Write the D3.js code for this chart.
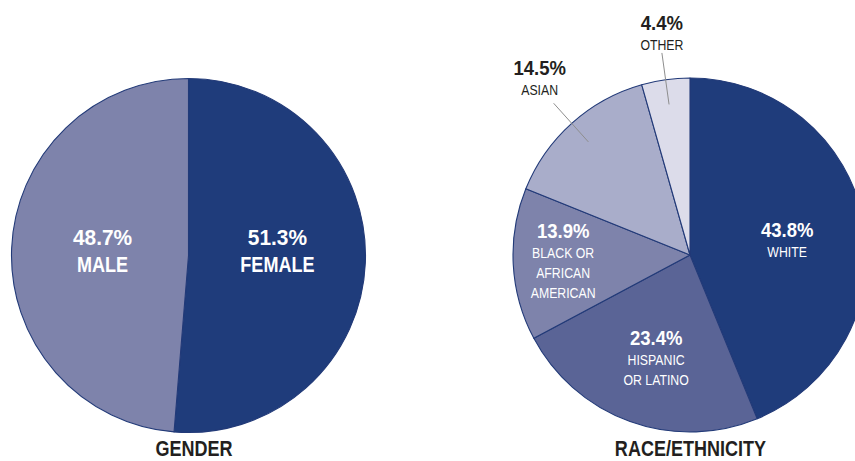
<!DOCTYPE html>
<html>
<head>
<meta charset="utf-8">
<script src="https://cdnjs.cloudflare.com/ajax/libs/d3/7.8.5/d3.min.js"></script>
<style>
  html, body { margin: 0; padding: 0; background: #fff; }
  svg { display: block; }
</style>
</head>
<body>
<div id="chart"></div>
<script>
var width = 855,
    height = 461;

// gender pie
var genderCats = ["FEMALE", "MALE"];
var genderVals = [51.3, 48.7];

// race / ethnicity pie
var raceCats = ["WHITE", "HISPANIC OR LATINO", "BLACK OR AFRICAN AMERICAN", "ASIAN", "OTHER"];
var raceVals = [43.8, 23.4, 13.9, 14.5, 4.4];
// how the category names wrap
var raceLines = [["WHITE"], ["HISPANIC", "OR LATINO"], ["BLACK OR", "AFRICAN", "AMERICAN"], ["ASIAN"], ["OTHER"]];

var titles = ["GENDER", "RACE/ETHNICITY"];

var genderColors = ["#1f3c7b", "#7e83ab"];
var raceColors = ["#1f3c7b", "#5a6496", "#7e83ab", "#a9adca", "#dcdcea"];

var R = 177;
var font = "'Liberation Sans', Arial, sans-serif";
// condensed look: squeeze Liberation Sans horizontally
var wordSqueeze = 0.82,
    pctSqueeze = 0.95;

var svg = d3.select("#chart").append("svg")
    .attr("width", width)
    .attr("height", height);

var pie = d3.pie().sort(null).value(d => d.value);
var arc = d3.arc().innerRadius(0).outerRadius(R);
var labelArc = d3.arc().innerRadius(97).outerRadius(97);
var leadIn = d3.arc().innerRadius(152).outerRadius(152);
var leadOut = d3.arc().innerRadius(204).outerRadius(204);

// add a squeezed, centered text at (x,y) inside parent
function addText(parent, x, y, str, size, bold, squeeze, fill) {
    return parent.append("text")
        .attr("transform", "translate(" + x + "," + y + ") scale(" + squeeze + ",1)")
        .attr("text-anchor", "middle")
        .attr("font-family", font)
        .attr("font-weight", bold ? 700 : 400)
        .attr("font-size", size)
        .attr("fill", fill)
        .text(str);
}

/**
 * draw one pie
 */
function drawPie(cx, cy, data, colors, opts) {
    var g = svg.append("g").attr("transform", "translate(" + cx + "," + cy + ")");
    var arcs = pie(data);

    g.selectAll(".slice").data(arcs).enter().append("path")
        .attr("class", "slice")
        .attr("d", arc)
        .attr("fill", (d, i) => colors[i])
        .attr("stroke", "#223a78")
        .attr("stroke-width", 1.1)
        .attr("stroke-linejoin", "round");

    arcs.forEach((d, i) => {
        var lines = d.data.lines;
        var pct = d.data.value.toFixed(1) + "%";
        if (d.data.outside) {
            // leader line + dark label above the pie
            var a = leadIn.centroid(d), b = leadOut.centroid(d);
            g.append("line")
                .attr("x1", a[0]).attr("y1", a[1])
                .attr("x2", b[0]).attr("y2", b[1])
                .attr("stroke", "#8e8e8e")
                .attr("stroke-width", 1);
            var lx = b[0] + d.data.nudge[0], ly = b[1] + d.data.nudge[1];
            addText(g, lx, ly - 20, pct, opts.pctSize, true, pctSqueeze, "#231f20");
            addText(g, lx, ly, lines[0], opts.wordSize, false, wordSqueeze, "#231f20");
            return;
        }
        var c = labelArc.centroid(d);
        var x = c[0] + d.data.nudge[0], y = c[1] + d.data.nudge[1];
        var n = lines.length + 1;
        var base = y - (n - 1) * opts.lh / 2 + opts.cap / 2;
        addText(g, x, base, pct, opts.pctSize, true, pctSqueeze, "#fff");
        lines.forEach((l, j) => {
            addText(g, x, base + (j + 1) * opts.lh, l, opts.wordSize, opts.wordBold, wordSqueeze, "#fff");
        });
    });
}

// label nudges from the slice centroid (layout only)
var genderNudge = [[-8, -9], [11, -1]];
var raceNudge = [[2, 4], [-1, 12], [-30, 1], [-14, -8], [0, -3]];

var genderData = genderCats.map((c, i) => ({
    name: c, value: genderVals[i], lines: [c], nudge: genderNudge[i], outside: false
}));
var raceData = raceCats.map((c, i) => ({
    name: c, value: raceVals[i], lines: raceLines[i], nudge: raceNudge[i], outside: i >= 3
}));

drawPie(188.5, 255.5, genderData, genderColors,
    {pctSize: 22, wordSize: 22, wordBold: true, lh: 27.5, cap: 16});
drawPie(690, 255, raceData, raceColors,
    {pctSize: 19.5, wordSize: 15, wordBold: false, lh: 20, cap: 14});

// titles under the pies
var tx = [194, 690.5];
titles.forEach((d, i) => {
    addText(svg, tx[i], 456, d, 22, true, wordSqueeze, "#231f20");
});
</script>
</body>
</html>
